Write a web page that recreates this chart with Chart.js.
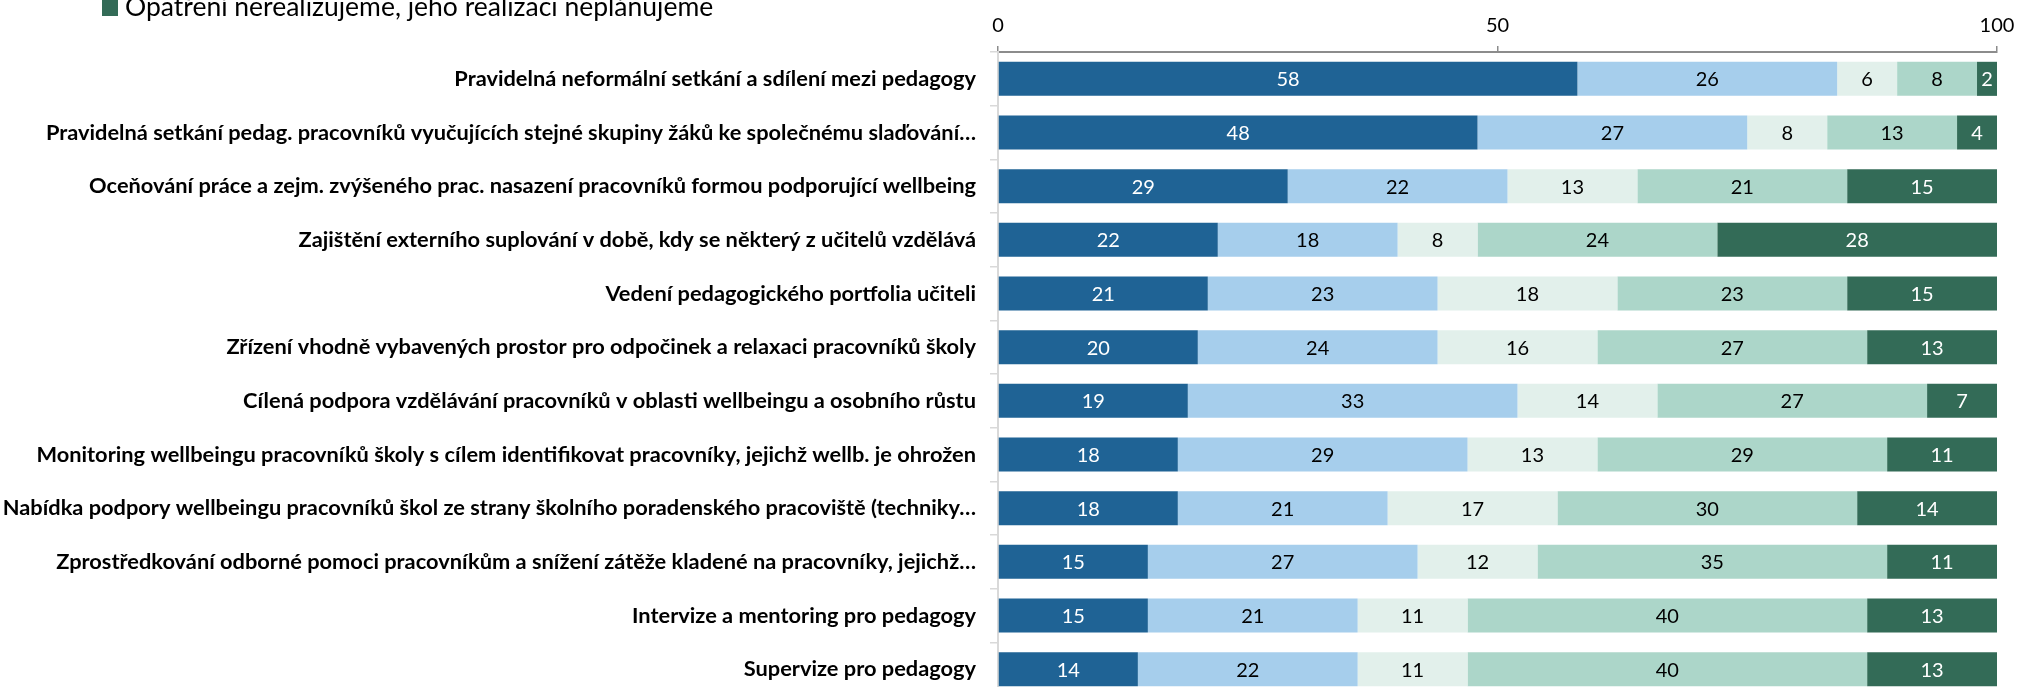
<!DOCTYPE html>
<html>
<head>
<meta charset="utf-8">
<script src="https://cdn.jsdelivr.net/npm/chart.js@4/dist/chart.umd.min.js"></script>
<style>
  html, body { margin: 0; padding: 0; background: #fff; overflow: hidden; }
  #chart { position: absolute; left: 0; top: -160px; }
</style>
</head>
<body>
<canvas id="chart" width="2017" height="856"></canvas>
<script>
// Wellbeing measures - stacked horizontal bars (shares in %)

const categories = [
  'Pravidelná neformální setkání a sdílení mezi pedagogy',
  'Pravidelná setkání pedag. pracovníků vyučujících stejné skupiny žáků ke společnému slaďování…',
  'Oceňování práce a zejm. zvýšeného prac. nasazení pracovníků formou podporující wellbeing',
  'Zajištění externího suplování v době, kdy se některý z učitelů vzdělává',
  'Vedení pedagogického portfolia učiteli',
  'Zřízení vhodně vybavených prostor pro odpočinek a relaxaci pracovníků školy',
  'Cílená podpora vzdělávání pracovníků v oblasti wellbeingu a osobního růstu',
  'Monitoring wellbeingu pracovníků školy s cílem identifikovat pracovníky, jejichž wellb. je ohrožen',
  'Nabídka podpory wellbeingu pracovníků škol ze strany školního poradenského pracoviště (techniky…',
  'Zprostředkování odborné pomoci pracovníkům a snížení zátěže kladené na pracovníky, jejichž…',
  'Intervize a mentoring pro pedagogy',
  'Supervize pro pedagogy',
];

const seriesLabels = [
  'Opatření realizujeme systematicky',
  'Opatření realizujeme částečně',
  'Opatření realizujeme ojediněle',
  'Opatření nerealizujeme, ale plánujeme jeho realizaci',
  'Opatření nerealizujeme, jeho realizaci neplánujeme',
];

const systematicky = [58, 48, 29, 22, 21, 20, 19, 18, 18, 15, 15, 14];
const castecne = [26, 27, 22, 18, 23, 24, 33, 29, 21, 27, 21, 22];
const ojedinele = [6, 8, 13, 8, 18, 16, 14, 13, 17, 12, 11, 11];
const planujeme = [8, 13, 21, 24, 23, 27, 27, 29, 30, 35, 40, 40];
const neplanujeme = [2, 4, 15, 28, 15, 13, 7, 11, 14, 11, 13, 13];

const xTicks = [0, 50, 100];

const colors = ['#1f6395', '#a6ceec', '#e2f0eb', '#acd6c9', '#336b57'];
const labelColors = ['#ffffff', '#000000', '#000000', '#000000', '#ffffff'];

const font = 'Lato, sans-serif';

const values = [systematicky, castecne, ojedinele, planujeme, neplanujeme];

const datasets = values.map((data, i) => ({
  label: seriesLabels[i],
  data,
  backgroundColor: colors[i],
  borderWidth: 0,
  categoryPercentage: 1,
  barPercentage: 0.635,
}));

const valueLabels = {
  id: 'valueLabels',
  afterDatasetsDraw(chart) {
    const { ctx } = chart;
    ctx.save();
    ctx.font = `20px ${font}`;
    ctx.textAlign = 'center';
    ctx.textBaseline = 'middle';
    chart.data.datasets.forEach((ds, i) => {
      const meta = chart.getDatasetMeta(i);
      meta.data.forEach((bar, j) => {
        const v = ds.data[j];
        const cx = (bar.x + bar.base) / 2;
        ctx.fillStyle = labelColors[i];
        ctx.fillText(String(v), cx, bar.y + 1);
      });
    });
    ctx.restore();
  },
};

// legend stacked in a column, only the last line falls inside the picture
const columnLegend = {
  id: 'columnLegend',
  afterDraw(chart) {
    const { ctx } = chart;
    ctx.save();
    ctx.font = `26.5px ${font}`;
    ctx.textBaseline = 'alphabetic';
    ctx.textAlign = 'left';
    const n = chart.data.datasets.length;
    chart.data.datasets.forEach((ds, i) => {
      const baseY = 176 - (n - 1 - i) * 36;
      ctx.fillStyle = ds.backgroundColor;
      ctx.fillRect(102, baseY - 16, 16, 16);
      ctx.fillStyle = '#000000';
      ctx.fillText(ds.label, 125, baseY);
    });
    ctx.restore();
  },
};

new Chart(document.getElementById('chart'), {
  type: 'bar',
  data: { labels: categories, datasets },
  options: {
    indexAxis: 'y',
    responsive: false,
    animation: false,
    devicePixelRatio: 1,
    layout: { padding: { top: 160, right: 20, bottom: 0, left: 0 } },
    plugins: {
      legend: { display: false },
      tooltip: { enabled: false },
    },
    scales: {
      x: {
        position: 'top',
        stacked: true,
        min: 0,
        max: 100,
        afterBuildTicks(scale) {
          scale.ticks = xTicks.map((v) => ({ value: v }));
        },
        afterFit(scale) {
          scale.height = 52;
          scale.paddingLeft = 0;
          scale.paddingRight = 0;
        },
        grid: {
          display: true,
          drawOnChartArea: false,
          drawTicks: true,
          tickLength: 6,
          color: '#8c8c8c',
          lineWidth: 1.5,
        },
        border: { display: true, color: '#8c8c8c', width: 2 },
        ticks: {
          color: '#000000',
          font: { family: font, size: 20 },
          padding: 8,
          maxRotation: 0,
        },
      },
      y: {
        stacked: true,
        afterFit(scale) {
          scale.width = 998;
          scale.paddingTop = 0;
          scale.paddingBottom = 0;
        },
        grid: {
          display: true,
          drawOnChartArea: false,
          drawTicks: true,
          tickLength: 8,
          offset: true,
          color: '#d9d9d9',
          lineWidth: 1.5,
        },
        border: { display: true, color: '#d9d9d9', width: 2 },
        ticks: {
          color: '#000000',
          font: { family: font, size: 21.8, weight: 'bold' },
          padding: 14,
          autoSkip: false,
        },
      },
    },
  },
  plugins: [valueLabels, columnLegend],
});
</script>
</body>
</html>
